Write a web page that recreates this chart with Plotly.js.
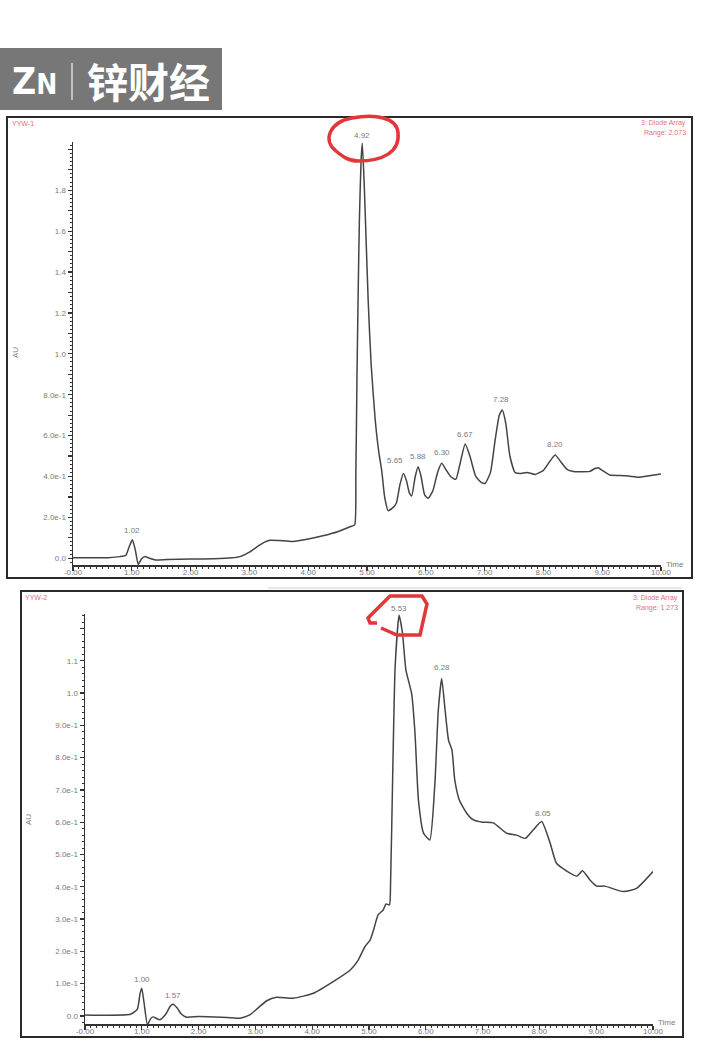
<!DOCTYPE html>
<html>
<head>
<meta charset="utf-8">
<script src="https://cdn.plot.ly/plotly-3.0.1.min.js"></script>
<style>
  html, body { margin: 0; padding: 0; background: #fff; }
  #chart { width: 702px; height: 1049px; }
</style>
</head>
<body>
<div id="chart"></div>
<script>
// chromatogram YYW-1 (time in min, absorbance in AU)
var time1 = [0.00, 0.30, 0.60, 0.80, 0.90, 0.96, 1.01, 1.06, 1.11, 1.16, 1.22, 1.30, 1.40, 1.60, 2.00, 2.40,
  2.70, 2.84, 3.00, 3.15, 3.25, 3.35, 3.50, 3.74, 4.00, 4.25, 4.50, 4.72, 4.79, 4.81, 4.83, 4.85, 4.87, 4.90,
  4.92, 4.95, 4.98, 5.02, 5.07, 5.14, 5.20, 5.25, 5.30, 5.36, 5.45, 5.50, 5.56, 5.62, 5.67, 5.72, 5.76, 5.82,
  5.87, 5.92, 5.98, 6.04, 6.12, 6.20, 6.27, 6.35, 6.42, 6.51, 6.58, 6.67, 6.75, 6.85, 6.95, 7.01, 7.10, 7.18,
  7.25, 7.30, 7.36, 7.43, 7.52, 7.62, 7.72, 7.86, 8.00, 8.10, 8.20, 8.30, 8.40, 8.51, 8.65, 8.79, 8.87, 8.93,
  9.00, 9.13, 9.30, 9.45, 9.61, 9.80, 10.00]
var au1 = [0.003, 0.002, 0.003, 0.008, 0.015, 0.06, 0.09, 0.04, -0.03, -0.005, 0.008, 0.0, -0.008, -0.006, -0.004, -0.002,
  0.002, 0.008, 0.03, 0.06, 0.078, 0.088, 0.087, 0.082, 0.094, 0.11, 0.13, 0.155, 0.163, 0.4, 0.9, 1.3, 1.65, 1.95,
  2.03, 1.85, 1.6, 1.26, 0.95, 0.676, 0.52, 0.43, 0.30, 0.233, 0.25, 0.27, 0.36, 0.415, 0.38, 0.32, 0.305, 0.40,
  0.448, 0.40, 0.31, 0.293, 0.33, 0.42, 0.465, 0.43, 0.40, 0.386, 0.46, 0.559, 0.50, 0.40, 0.37, 0.367, 0.42, 0.58,
  0.70, 0.725, 0.66, 0.50, 0.419, 0.415, 0.42, 0.41, 0.43, 0.47, 0.505, 0.47, 0.435, 0.424, 0.423, 0.425, 0.438, 0.443,
  0.43, 0.407, 0.405, 0.402, 0.396, 0.403, 0.412]

// chromatogram YYW-2
var time2 = [0.00, 0.40, 0.80, 0.92, 0.97, 1.00, 1.04, 1.10, 1.15, 1.20, 1.26, 1.32, 1.42, 1.50, 1.55, 1.62,
  1.70, 1.79, 2.00, 2.40, 2.73, 2.90, 3.05, 3.20, 3.37, 3.67, 4.02, 4.37, 4.67, 4.81, 4.93, 5.02, 5.08, 5.16,
  5.25, 5.30, 5.36, 5.38, 5.42, 5.46, 5.53, 5.59, 5.65, 5.75, 5.81, 5.87, 5.96, 6.07, 6.16, 6.22, 6.28, 6.34,
  6.40, 6.46, 6.51, 6.59, 6.72, 6.84, 7.00, 7.19, 7.42, 7.60, 7.75, 7.89, 8.04, 8.19, 8.30, 8.54, 8.66, 8.76,
  8.89, 9.01, 9.15, 9.48, 9.71, 10.00]
var au2 = [0.003, 0.002, 0.005, 0.02, 0.07, 0.086, 0.04, -0.028, -0.01, -0.003, -0.008, -0.012, 0.005, 0.03, 0.036, 0.025,
  0.005, -0.004, -0.002, -0.004, -0.007, 0.003, 0.025, 0.047, 0.058, 0.055, 0.07, 0.106, 0.142, 0.173, 0.215, 0.235, 0.266, 0.313,
  0.328, 0.347, 0.344, 0.411, 0.772, 1.081, 1.241, 1.185, 1.071, 0.999, 0.875, 0.669, 0.566, 0.545, 0.72, 0.947, 1.045, 0.947,
  0.854, 0.824, 0.731, 0.669, 0.628, 0.607, 0.600, 0.598, 0.566, 0.560, 0.550, 0.576, 0.602, 0.535, 0.473, 0.442, 0.433, 0.450,
  0.421, 0.402, 0.402, 0.385, 0.395, 0.447]

// retention time labels
var peakText1 = ["1.02", "4.92", "5.65", "5.88", "6.30", "6.67", "7.28", "8.20"]
var peakX1 = [1.00, 4.91, 5.48, 5.87, 6.27, 6.67, 7.28, 8.20]
var peakY1 = [0.10, 2.03, 0.44, 0.46, 0.48, 0.57, 0.74, 0.52]
var peakText2 = ["1.00", "1.57", "5.53", "6.28", "8.05"]
var peakX2 = [1.00, 1.55, 5.53, 6.28, 8.06]
var peakY2 = [0.089, 0.039, 1.24, 1.055, 0.605]

// axis ticks
var xTickVals = [0, 1, 2, 3, 4, 5, 6, 7, 8, 9, 10]
var xTickText = ["-0.00", "1.00", "2.00", "3.00", "4.00", "5.00", "6.00", "7.00", "8.00", "9.00", "10.00"]
var yTickVals1 = [0, 0.1, 0.2, 0.3, 0.4, 0.5, 0.6, 0.7, 0.8, 0.9, 1.0, 1.1, 1.2, 1.3, 1.4, 1.5, 1.6, 1.7, 1.8, 1.9, 2.0]
var yTickText1 = ["0.0", "", "2.0e-1", "", "4.0e-1", "", "6.0e-1", "", "8.0e-1", "", "1.0", "", "1.2", "", "1.4", "", "1.6", "", "1.8", "", ""]
var yTickVals2 = [0, 0.1, 0.2, 0.3, 0.4, 0.5, 0.6, 0.7, 0.8, 0.9, 1.0, 1.1, 1.2]
var yTickText2 = ["0.0", "1.0e-1", "2.0e-1", "3.0e-1", "4.0e-1", "5.0e-1", "6.0e-1", "7.0e-1", "8.0e-1", "9.0e-1", "1.0", "1.1", ""]

var W = 702, H = 1049
// pixel -> paper helpers for the page furniture
function px(x) { return x / W }
function py(y) { return 1 - y / H }
function pt(x, y) { return px(x) + "," + py(y) }

var lineStyle = { color: "#444444", width: 1.5, shape: "spline", smoothing: 0.5 }
var labelFont = { family: "Liberation Sans, Arial, sans-serif", size: 8, color: "#7a7a7a" }
var redFont = { family: "Liberation Sans, Arial, sans-serif", size: 7, color: "#e0707c" }

var traces = [
  { x: time1, y: au1, type: "scatter", mode: "lines", line: lineStyle, xaxis: "x", yaxis: "y", hoverinfo: "skip" },
  { x: time2, y: au2, type: "scatter", mode: "lines", line: lineStyle, xaxis: "x2", yaxis: "y2", hoverinfo: "skip" },
]

function xAxis(domain, anchor) {
  return {
    domain: domain, anchor: anchor, range: [0, 10],
    showline: true, linecolor: "#333", linewidth: 1.5, showgrid: false, zeroline: false,
    tickmode: "array", tickvals: xTickVals, ticktext: xTickText,
    ticks: "outside", ticklen: 4, tickwidth: 1.2, tickcolor: "#333", ticklabelstandoff: -5,
    minor: { ticks: "outside", ticklen: 2, tickwidth: 1, tickcolor: "#333", tickmode: "linear", tick0: 0, dtick: 0.1 },
    tickfont: labelFont, fixedrange: true,
  }
}
function yAxis(domain, anchor, range, vals, text, minorStep) {
  return {
    domain: domain, anchor: anchor, range: range,
    showline: true, linecolor: "#333", linewidth: 1.5, showgrid: false, zeroline: false,
    tickmode: "array", tickvals: vals, ticktext: text,
    ticks: "outside", ticklen: 4, tickwidth: 1.2, tickcolor: "#333",
    minor: { ticks: "outside", ticklen: 2, tickwidth: 1, tickcolor: "#333", tickmode: "linear", tick0: 0, dtick: minorStep },
    tickfont: labelFont, fixedrange: true,
  }
}

var annotations = []
peakText1.forEach(function (t, i) {
  annotations.push({ xref: "x", yref: "y", x: peakX1[i], y: peakY1[i], text: t, showarrow: false,
    yanchor: "bottom", yshift: 1, font: labelFont })
})
peakText2.forEach(function (t, i) {
  annotations.push({ xref: "x2", yref: "y2", x: peakX2[i], y: peakY2[i], text: t, showarrow: false,
    yanchor: "bottom", yshift: 1, font: labelFont })
})

function note(x, y, text, font, xanchor, extra) {
  var a = { xref: "paper", yref: "paper", x: px(x), y: py(y), text: text, showarrow: false,
    xanchor: xanchor || "left", yanchor: "middle", font: font }
  return Object.assign(a, extra || {})
}

annotations.push(
  note(10, 123, "YYW-1", redFont),
  note(688, 123, "3: Diode Array", redFont, "right"),
  note(688, 133, "Range: 2.073", redFont, "right"),
  note(15, 353, "AU", labelFont, "center", { textangle: -90 }),
  note(664, 564, "Time", labelFont),
  note(23, 597, "YYW-2", redFont),
  note(680, 598, "3: Diode Array", redFont, "right"),
  note(680, 608, "Range: 1.273", redFont, "right"),
  note(28, 820, "AU", labelFont, "center", { textangle: -90 }),
  note(656, 1022, "Time", labelFont),
  // logo
  note(10, 82, "<b>Z</b><b><span style='font-size:28px'>N</span></b>",
    { family: "Liberation Sans Narrow, DejaVu Sans Condensed, sans-serif", size: 37, color: "#ffffff" }),
  note(85, 80, "<b>锌财经</b>",
    { family: "Noto Sans CJK SC, sans-serif", size: 41, color: "#ffffff" })
)

var redLine = { color: "#e0383a", width: 3.5 }
var shapes = [
  // logo plate
  { type: "rect", xref: "paper", yref: "paper", x0: px(0), x1: px(222), y0: py(48), y1: py(110),
    fillcolor: "#777777", line: { width: 0 }, layer: "below" },
  { type: "line", xref: "paper", yref: "paper", x0: px(72), x1: px(72), y0: py(63), y1: py(100),
    line: { color: "#dddddd", width: 1.5 } },
  // panel frames
  { type: "rect", xref: "paper", yref: "paper", x0: px(7), x1: px(692), y0: py(117), y1: py(578),
    line: { color: "#2a2a2a", width: 2 } },
  { type: "rect", xref: "paper", yref: "paper", x0: px(21), x1: px(683), y0: py(591), y1: py(1037),
    line: { color: "#2a2a2a", width: 2 } },
  { type: "line", xref: "paper", yref: "paper", x0: px(268), x1: px(682), y0: py(588), y1: py(588),
    line: { color: "#d0d0d0", width: 1 } },
  // hand-drawn red marks
  { type: "path", xref: "paper", yref: "paper", line: redLine,
    path: "M" + pt(336, 151) + " C" + pt(322, 140) + " " + pt(330, 122) + " " + pt(352, 118) +
      " C" + pt(375, 114) + " " + pt(397, 117) + " " + pt(398, 133) +
      " C" + pt(400, 152) + " " + pt(383, 161) + " " + pt(358, 161) +
      " C" + pt(348, 161) + " " + pt(342, 156) + " " + pt(336, 151) },
  { type: "path", xref: "paper", yref: "paper", line: redLine,
    path: "M" + pt(381, 628) + " L" + pt(397, 635) + " L" + pt(420, 635) + " L" + pt(427, 604) +
      " L" + pt(422, 596) + " L" + pt(390, 596) + " L" + pt(368, 618) + " L" + pt(370, 623) + " L" + pt(377, 623) },
]

var layout = {
  width: W, height: H,
  margin: { l: 0, r: 0, t: 0, b: 0 },
  paper_bgcolor: "#ffffff", plot_bgcolor: "rgba(0,0,0,0)",
  showlegend: false,
  xaxis: xAxis([px(73), px(661)], "y"),
  yaxis: yAxis([py(565), py(142)], "x", [-0.033, 2.036], yTickVals1, yTickText1, 0.02),
  xaxis2: xAxis([px(85), px(653)], "y2"),
  yaxis2: yAxis([py(1024.3), py(614)], "x2", [-0.026, 1.245], yTickVals2, yTickText2, 0.02),
  annotations: annotations,
  shapes: shapes,
}

Plotly.newPlot("chart", traces, layout, { displayModeBar: false, staticPlot: true })
</script>
</body>
</html>
